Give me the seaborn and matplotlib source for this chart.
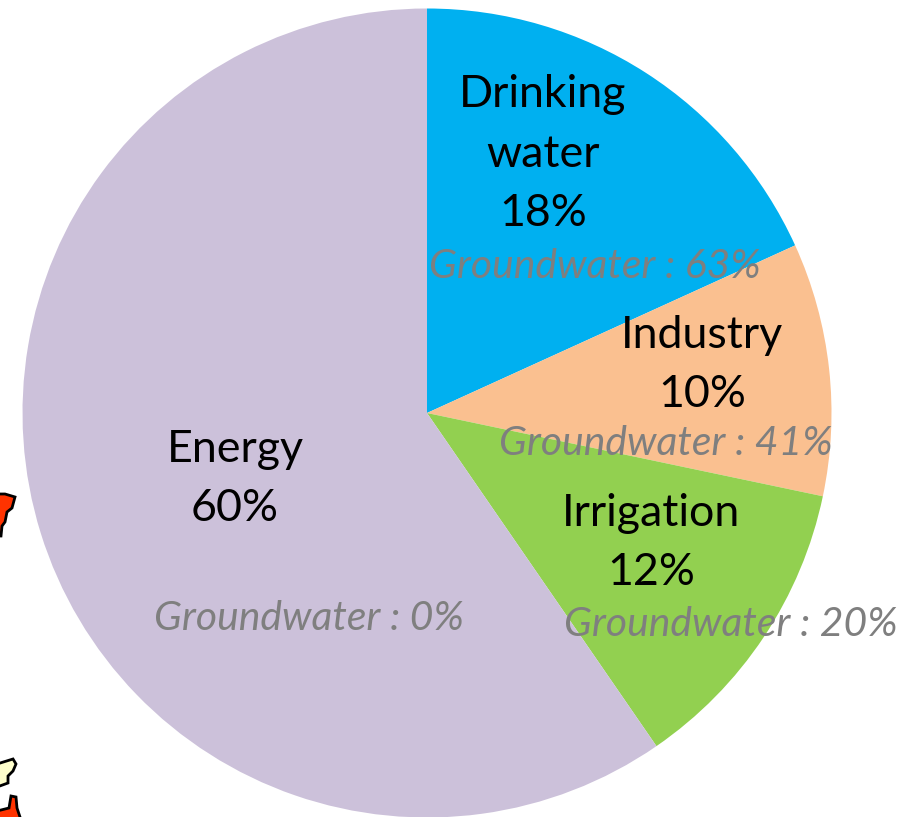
import matplotlib
matplotlib.use("Agg")
import matplotlib.pyplot as plt
import seaborn as sns

sns.set_theme(style="white")
plt.rcParams['font.family'] = ['Lato', 'DejaVu Sans']

W, H = 899, 817
labels = ["Drinking\nwater\n18%", "Industry\n10%", "Irrigation\n12%", "Energy\n60%"]
shares = [18.2, 10.1, 12.1, 59.6]
groundwater = ["Groundwater : 63%", "Groundwater : 41%", "Groundwater : 20%", "Groundwater : 0%"]
colors = ["#00B0F0", "#FAC090", "#92D050", "#CCC1DA"]

label_pos = [(543, 154), (702, 365), (651, 543), (235, 479)]
gw_pos = [(595, 266), (666, 443), (731, 624), (309, 618)]

map_red_a = [(-3, 494), (5, 494), (15, 497), (12, 508), (7, 512), (5, 522), (2, 526), (1, 536), (-3, 536)]
map_cream = [(-3, 764), (13, 759), (16, 764), (13, 771), (8, 776), (8, 783), (-3, 787)]
map_red_b = [(11, 796), (16, 797), (17, 808), (21, 820), (-3, 820), (-3, 811), (9, 808)]


def flip(points):
    return [(x, H - y) for x, y in points]


fig = plt.figure(figsize=(W / 100, H / 100), dpi=100)
ax = fig.add_axes([0, 0, 1, 1])

cx, cy, r = 427, 413, 404.5
ax.pie(shares, colors=colors, startangle=90, counterclock=False,
       center=(cx, H - cy), radius=r, frame=True, wedgeprops=dict(linewidth=0))

for pts, col in [(map_red_a, "#FF3300"), (map_cream, "#FFFFCC"), (map_red_b, "#FF3300")]:
    xs, ys = zip(*flip(pts))
    ax.fill(xs, ys, facecolor=col, edgecolor="black", linewidth=2)

for text, (x, y) in zip(labels, label_pos):
    ax.text(x, H - y, text, ha="center", va="center", fontsize=32.2,
            color="black", linespacing=1.55)
for text, (x, y) in zip(groundwater, gw_pos):
    ax.text(x, H - y, text, ha="center", va="center", fontsize=29.4,
            color="#7F7F7F", style="italic")

ax.set_aspect('equal')
ax.set_xlim(0, W)
ax.set_ylim(0, H)
ax.axis('off')
fig.savefig('out.png', dpi=100)
